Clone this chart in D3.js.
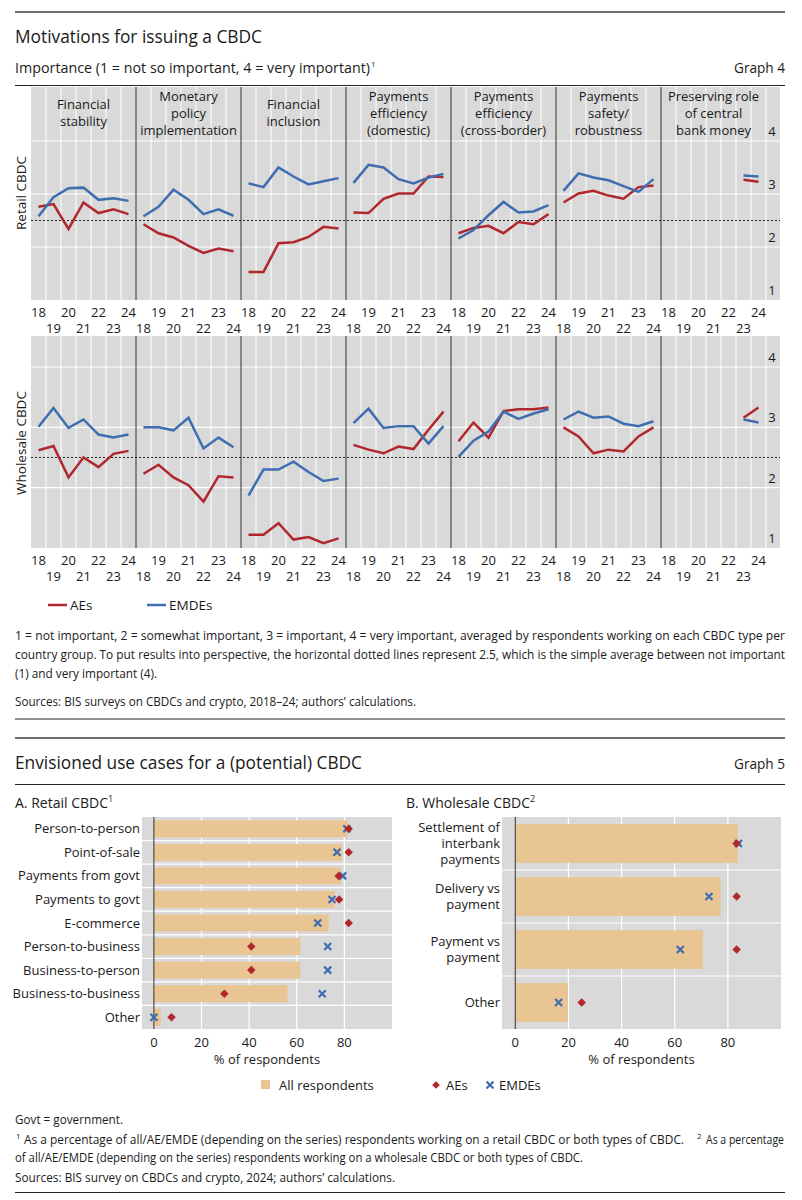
<!DOCTYPE html>
<html>
<head>
<meta charset="utf-8">
<script src="https://cdn.jsdelivr.net/npm/d3@7"></script>
<style>
body { margin: 0; background: #fff; }
svg text { font-family: "Open Sans", sans-serif; fill: #1a1a1a; }
</style>
</head>
<body>
<div id="chart"></div>
<script>
// ---- Graph 4 data ----
var motivations = ["Financial\nstability", "Monetary\npolicy\nimplementation", "Financial\ninclusion",
    "Payments\nefficiency\n(domestic)", "Payments\nefficiency\n(cross-border)", "Payments\nsafety/\nrobustness",
    "Preserving role\nof central\nbank money"];
var years = ["18", "19", "20", "21", "22", "23", "24"];
var yTicks = [1, 2, 3, 4];

var retailAEs = [
    [2.76, 2.81, 2.34, 2.84, 2.64, 2.71, 2.62],
    [2.43, 2.26, 2.18, 2.02, 1.89, 1.97, 1.92],
    [1.53, 1.53, 2.07, 2.09, 2.19, 2.38, 2.35],
    [2.65, 2.64, 2.91, 3.01, 3.01, 3.33, 3.32],
    [2.26, 2.36, 2.40, 2.26, 2.47, 2.43, 2.62],
    [2.84, 3.01, 3.06, 2.97, 2.91, 3.13, 3.16],
    [null, null, null, null, null, 3.27, 3.23]
];
var retailEMDEs = [
    [2.58, 2.94, 3.11, 3.12, 2.89, 2.92, 2.87],
    [2.58, 2.76, 3.08, 2.89, 2.62, 2.71, 2.59],
    [3.20, 3.13, 3.50, 3.33, 3.18, 3.24, 3.30],
    [3.21, 3.55, 3.50, 3.28, 3.20, 3.31, 3.38],
    [2.16, 2.32, 2.60, 2.85, 2.65, 2.67, 2.79],
    [3.06, 3.39, 3.31, 3.26, 3.15, 3.04, 3.28],
    [null, null, null, null, null, 3.35, 3.33]
];
var wholesaleAEs = [
    [2.62, 2.69, 2.17, 2.50, 2.34, 2.56, 2.61],
    [2.23, 2.38, 2.17, 2.04, 1.77, 2.19, 2.17],
    [1.22, 1.22, 1.41, 1.14, 1.18, 1.08, 1.16],
    [2.71, 2.63, 2.57, 2.68, 2.64, 2.96, 3.26],
    [2.77, 3.08, 2.83, 3.27, 3.30, 3.30, 3.33],
    [3.00, 2.85, 2.57, 2.63, 2.60, 2.85, 3.00],
    [null, null, null, null, null, 3.16, 3.33]
];
var wholesaleEMDEs = [
    [3.01, 3.32, 2.99, 3.13, 2.88, 2.83, 2.88],
    [3.00, 3.00, 2.95, 3.16, 2.65, 2.83, 2.67],
    [1.87, 2.30, 2.30, 2.43, 2.26, 2.11, 2.15],
    [3.07, 3.31, 2.99, 3.02, 3.02, 2.73, 3.02],
    [2.51, 2.78, 2.93, 3.26, 3.14, 3.23, 3.30],
    [3.13, 3.26, 3.16, 3.18, 3.06, 3.02, 3.10],
    [null, null, null, null, null, 3.13, 3.08]
];

// ---- Graph 5 data ----
var retailUses = ["Person-to-person", "Point-of-sale", "Payments from govt", "Payments to govt", "E-commerce",
    "Person-to-business", "Business-to-person", "Business-to-business", "Other"];
var retailAll = [81.4, 79.0, 78.6, 75.9, 73.4, 61.5, 61.5, 56.1, 2.9];
var retailAE = [81.8, 81.8, 77.6, 77.8, 81.8, 40.9, 40.9, 29.6, 7.4];
var retailEMDE = [81.0, 76.9, 79.3, 74.8, 68.8, 73.0, 73.0, 70.7, 0];

var wholesaleUses = ["Settlement of\ninterbank\npayments", "Delivery vs\npayment", "Payment vs\npayment", "Other"];
var wholesaleAll = [83.8, 77.3, 70.6, 19.8];
var wholesaleAE = [83.3, 83.3, 83.3, 25.0];
var wholesaleEMDE = [84.0, 72.9, 62.1, 16.3];
var pctTicks = [0, 20, 40, 60, 80];

var red = "#b0282e", blue = "#3e6db0", panelGray = "#d9d9d9", tan = "#e8c592";

var svg = d3.select("#chart").append("svg")
    .attr("width", 802)
    .attr("height", 1200);

function rule(y, color, width) {
    svg.append("line").attr("x1", 15).attr("x2", 785).attr("y1", y).attr("y2", y)
        .attr("stroke", color).attr("stroke-width", width);
}

function textFit(x, y, str, size, len, anchor) {
    var t = svg.append("text").attr("x", x).attr("y", y).style("font-size", size + "px").text(str);
    if (len) t.attr("textLength", len).attr("lengthAdjust", "spacingAndGlyphs");
    if (anchor) t.attr("text-anchor", anchor);
    return t;
}

// ---- Graph 4 header ----
rule(12, "#6e6e6e", 2);
textFit(15, 43, "Motivations for issuing a CBDC", 18, 247);
textFit(15, 73, "Importance (1 = not so important, 4 = very important)", 14, 355);
textFit(371, 67, "1", 8);
textFit(785, 73, "Graph 4", 14, 51, "end");
rule(85.5, "#222", 1);

// ---- Graph 4 panels ----
var xPanel = d3.scaleBand().domain(d3.range(7)).range([31, 766]);
var xYear = d3.scaleBand().domain(years).range([0, xPanel.bandwidth()]);

function drawRow(cfg) {
    var y = d3.scaleLinear().domain([1, 4]).range([cfg.bottom, cfg.y4]);
    var g = svg.append("g");

    g.append("rect").attr("x", 31).attr("y", cfg.top)
        .attr("width", 780 - 31).attr("height", cfg.bottom - cfg.top)
        .attr("fill", panelGray);

    // white grid: year band edges and value levels
    xPanel.domain().forEach(function(p) {
        years.forEach(function(yr, i) {
            var gx = xPanel(p) + xYear(yr);
            if (i > 0) {
                g.append("line").attr("x1", gx).attr("x2", gx)
                    .attr("y1", cfg.top).attr("y2", cfg.bottom)
                    .attr("stroke", "#fff").attr("stroke-width", 1);
            }
        });
    });
    g.append("line").attr("x1", 766).attr("x2", 766).attr("y1", cfg.top).attr("y2", cfg.bottom)
        .attr("stroke", "#fff").attr("stroke-width", 1);
    [2, 3, 4].forEach(function(v) {
        g.append("line").attr("x1", 31).attr("x2", 780).attr("y1", y(v)).attr("y2", y(v))
            .attr("stroke", "#fff").attr("stroke-width", 1.2);
    });

    // panel dividers
    xPanel.domain().slice(1).forEach(function(p) {
        g.append("line").attr("x1", xPanel(p)).attr("x2", xPanel(p))
            .attr("y1", cfg.top).attr("y2", cfg.bottom)
            .attr("stroke", "#333").attr("stroke-width", 1);
    });

    // dotted 2.5 reference
    g.append("line").attr("x1", 31).attr("x2", 780).attr("y1", y(2.5)).attr("y2", y(2.5))
        .attr("stroke", "#222").attr("stroke-width", 1).attr("stroke-dasharray", "2,2");

    // y tick labels on the right
    g.selectAll("text.ytick").data(yTicks).enter().append("text")
        .attr("class", "ytick")
        .attr("x", 772).attr("y", function(d) { return y(d) - 5; })
        .attr("text-anchor", "middle").style("font-size", "13px")
        .text(function(d) { return d; });

    // series
    [[cfg.ae, red], [cfg.emde, blue]].forEach(function(s) {
        s[0].forEach(function(vals, p) {
            var line = d3.line()
                .defined(function(d) { return d != null; })
                .x(function(d, i) { return xPanel(p) + xYear(years[i]) + xYear.bandwidth() / 2; })
                .y(function(d) { return y(d); });
            g.append("path").datum(vals).attr("d", line)
                .attr("fill", "none").attr("stroke", s[1]).attr("stroke-width", 2.5);
        });
    });

    // x tick labels, alternating rows
    xPanel.domain().forEach(function(p) {
        years.forEach(function(yr, i) {
            var idx = p * 7 + i;
            g.append("text")
                .attr("x", xPanel(p) + xYear(yr) + xYear.bandwidth() / 2)
                .attr("y", idx % 2 === 0 ? cfg.bottom + 17 : cfg.bottom + 33)
                .attr("text-anchor", "middle").style("font-size", "13px")
                .text(yr);
        });
    });

    // row label
    g.append("text").attr("transform", "translate(26," + cfg.labelY + ") rotate(-90)")
        .attr("text-anchor", "middle").style("font-size", "13.5px").text(cfg.label);

    return y;
}

drawRow({ top: 87, bottom: 300, y4: 141, ae: retailAEs, emde: retailEMDEs, label: "Retail CBDC", labelY: 193 });
drawRow({ top: 336, bottom: 548, y4: 367, ae: wholesaleAEs, emde: wholesaleEMDEs, label: "Wholesale CBDC", labelY: 443 });

// panel titles
motivations.forEach(function(m, p) {
    var lines = m.split("\n");
    var t = svg.append("text").attr("text-anchor", "middle").style("font-size", "13px");
    lines.forEach(function(l, k) {
        t.append("tspan").attr("x", xPanel(p) + xPanel.bandwidth() / 2)
            .attr("y", 113 - (lines.length - 1) * 17 / 2 + k * 17 + 4.5)
            .text(l);
    });
});

// legend graph 4
var leg4 = svg.append("g");
[["AEs", red, 48], ["EMDEs", blue, 147]].forEach(function(d) {
    leg4.append("line").attr("x1", d[2]).attr("x2", d[2] + 19).attr("y1", 605).attr("y2", 605)
        .attr("stroke", d[1]).attr("stroke-width", 2.5);
    leg4.append("text").attr("x", d[2] + 22).attr("y", 610).style("font-size", "13.5px").text(d[0]);
});

// footnotes graph 4
textFit(15, 640, "1 = not important, 2 = somewhat important, 3 = important, 4 = very important, averaged by respondents working on each CBDC type per", 12, 770);
textFit(15, 659, "country group. To put results into perspective, the horizontal dotted lines represent 2.5, which is the simple average between not important", 12, 770);
textFit(15, 678, "(1) and very important (4).", 12, 142);
textFit(15, 706, "Sources: BIS surveys on CBDCs and crypto, 2018–24; authors’ calculations.", 12, 401);
rule(719, "#222", 1);

// ---- Graph 5 header ----
rule(738, "#6e6e6e", 2);
textFit(15, 769, "Envisioned use cases for a (potential) CBDC", 18, 347);
textFit(785, 769, "Graph 5", 14, 51, "end");
rule(784.5, "#222", 1);

function panelTitle(x, str, sup) {
    var t = svg.append("text").attr("x", x).attr("y", 808).style("font-size", "14px");
    t.append("tspan").text(str);
    t.append("tspan").attr("dy", -6).style("font-size", "9px").text(sup);
}
panelTitle(15, "A. Retail CBDC", "1");
panelTitle(406, "B. Wholesale CBDC", "2");

function drawBars(cfg) {
    var x = d3.scaleLinear().domain([-5, 100]).range([cfg.left, cfg.right]);
    var y = d3.scaleBand().domain(cfg.cats).range([817, 1029])
        .paddingInner(cfg.pad).paddingOuter(cfg.pad / 2);
    var g = svg.append("g");

    g.append("rect").attr("x", cfg.left).attr("y", 817)
        .attr("width", cfg.right - cfg.left).attr("height", 1029 - 817).attr("fill", panelGray);

    pctTicks.slice(1).forEach(function(t) {
        g.append("line").attr("x1", x(t)).attr("x2", x(t)).attr("y1", 817).attr("y2", 1029)
            .attr("stroke", "#fff").attr("stroke-width", 1.2);
    });
    cfg.cats.slice(1).forEach(function(c) {
        var gy = y(c) - y.step() * y.paddingInner() / 2;
        g.append("line").attr("x1", cfg.left).attr("x2", cfg.right).attr("y1", gy).attr("y2", gy)
            .attr("stroke", "#fff").attr("stroke-width", 1.2);
    });

    g.selectAll("rect.bar").data(cfg.all).enter().append("rect")
        .attr("class", "bar")
        .attr("x", x(0))
        .attr("y", function(d, i) { return y(cfg.cats[i]); })
        .attr("width", function(d) { return x(d) - x(0); })
        .attr("height", y.bandwidth())
        .attr("fill", tan);

    g.append("line").attr("x1", x(0)).attr("x2", x(0)).attr("y1", 817).attr("y2", 1029)
        .attr("stroke", "#333").attr("stroke-width", 1);

    g.selectAll("path.emde").data(cfg.emde).enter().append("path")
        .attr("class", "emde")
        .attr("d", "M-3.5,-3.5L3.5,3.5M-3.5,3.5L3.5,-3.5")
        .attr("transform", function(d, i) {
            return "translate(" + x(d) + "," + (y(cfg.cats[i]) + y.bandwidth() / 2) + ")";
        })
        .attr("stroke", blue).attr("stroke-width", 2.2).attr("fill", "none");

    g.selectAll("path.ae").data(cfg.ae).enter().append("path")
        .attr("class", "ae")
        .attr("d", d3.symbol().type(d3.symbolSquare).size(36))
        .attr("transform", function(d, i) {
            return "translate(" + x(d) + "," + (y(cfg.cats[i]) + y.bandwidth() / 2) + ") rotate(45)";
        })
        .attr("fill", red);

    // category labels
    cfg.cats.forEach(function(c) {
        var lines = c.split("\n");
        var t = g.append("text").attr("text-anchor", "end").style("font-size", "13px");
        var cy = y(c) + y.bandwidth() / 2;
        lines.forEach(function(l, k) {
            t.append("tspan").attr("x", cfg.left - 2)
                .attr("y", cy - (lines.length - 1) * 16.3 / 2 + k * 16.3 + 4.5)
                .text(l);
        });
    });

    g.selectAll("text.xtick").data(pctTicks).enter().append("text")
        .attr("class", "xtick")
        .attr("x", function(d) { return x(d); }).attr("y", 1047)
        .attr("text-anchor", "middle").style("font-size", "13px")
        .text(function(d) { return d; });
    g.append("text").attr("x", (cfg.left + cfg.right) / 2).attr("y", 1064)
        .attr("text-anchor", "middle").style("font-size", "13px").text("% of respondents");
}

drawBars({ left: 142, right: 392, cats: retailUses, all: retailAll, ae: retailAE, emde: retailEMDE, pad: 0.28 });
drawBars({ left: 502, right: 781, cats: wholesaleUses, all: wholesaleAll, ae: wholesaleAE, emde: wholesaleEMDE, pad: 0.27 });

// legend graph 5
var leg5 = svg.append("g");
leg5.append("rect").attr("x", 261).attr("y", 1080).attr("width", 9).attr("height", 9).attr("fill", tan);
leg5.append("text").attr("x", 279).attr("y", 1089.5).style("font-size", "13px").text("All respondents");
leg5.append("path").attr("d", d3.symbol().type(d3.symbolSquare).size(30))
    .attr("transform", "translate(436,1085) rotate(45)").attr("fill", red);
leg5.append("text").attr("x", 446).attr("y", 1089.5).style("font-size", "13px").text("AEs");
leg5.append("path").attr("d", "M-3.5,-3.5L3.5,3.5M-3.5,3.5L3.5,-3.5")
    .attr("transform", "translate(490,1085)").attr("stroke", blue).attr("stroke-width", 2.2);
leg5.append("text").attr("x", 499).attr("y", 1089.5).style("font-size", "13px").text("EMDEs");

// footnotes graph 5
textFit(15, 1124, "Govt = government.", 12, 108);
textFit(16, 1139, "1", 8);
textFit(24, 1144, "As a percentage of all/AE/EMDE (depending on the series) respondents working on a retail CBDC or both types of CBDC.", 12, 660);
textFit(697, 1139, "2", 8);
textFit(706, 1144, "As a percentage", 12, 78);
textFit(15, 1162, "of all/AE/EMDE (depending on the series) respondents working on a wholesale CBDC or both types of CBDC.", 12, 568);
textFit(15, 1182, "Sources: BIS survey on CBDCs and crypto, 2024; authors’ calculations.", 12, 380);
rule(1192.5, "#222", 1);
</script>
</body>
</html>
